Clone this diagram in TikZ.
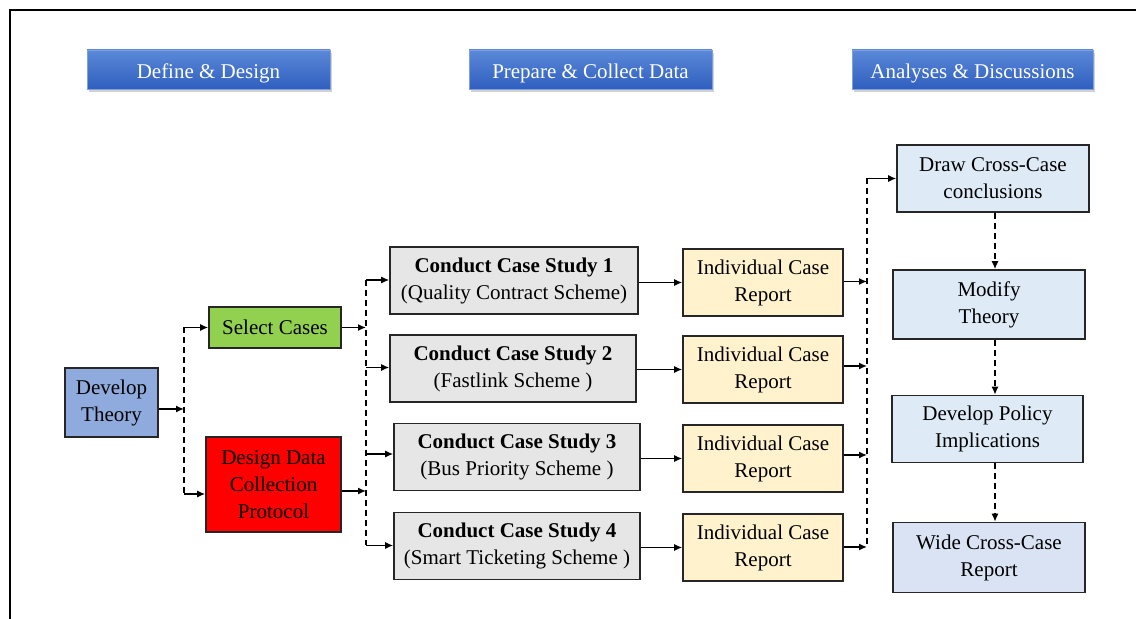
\documentclass[tikz,border=0pt]{standalone}
\usepackage{fontspec}
\setmainfont{Liberation Serif}
\usetikzlibrary{arrows.meta,shadows}
\definecolor{hdrtop}{HTML}{5B88D8}
\definecolor{hdrbot}{HTML}{2F5FBF}
\definecolor{hdrline}{HTML}{7FA0E0}
\definecolor{dtfill}{HTML}{8FAADC}
\definecolor{scfill}{HTML}{92D050}
\definecolor{ddfill}{HTML}{FF0000}
\definecolor{csfill}{HTML}{E7E6E6}
\definecolor{rpfill}{HTML}{FFF2CC}
\definecolor{anfill}{HTML}{DEEBF7}
\definecolor{wrfill}{HTML}{DAE3F3}
\begin{document}
\begin{tikzpicture}[x=0.5pt,y=-0.5pt,
  txt/.style={font=\fontsize{10.5}{13.5}\selectfont, align=center, inner sep=0pt},
  box/.style={txt, draw=black!85, line width=0.8pt},
  hdr/.style={txt, top color=hdrtop, bottom color=hdrbot, draw=hdrline, line width=0.4pt,
    text=white, minimum width=121.5pt, minimum height=19.5pt, text height=9.5pt, text depth=0pt,
    drop shadow={opacity=0.35, shadow xshift=1pt, shadow yshift=-1.5pt}},
  conn/.style={line width=0.7pt, black},
  arr/.style={conn, -{Latex[length=4pt,width=3.5pt]}},
  dsh/.style={conn, dash pattern=on 3pt off 2pt},
  darr/.style={arr, dash pattern=on 3pt off 2pt},
  csbox/.style={box, fill=csfill, minimum width=123pt, minimum height=33.5pt},
  rpbox/.style={box, fill=rpfill, minimum width=80pt, minimum height=33.5pt},
  anbox/.style={box, fill=anfill, minimum width=96pt, minimum height=33.5pt}]
\useasboundingbox[fill=white] (0,0) rectangle (1136,619);
\draw[line width=1pt] (9.5,619) -- (9.5,10.5) -- (1136,10.5);

% headers
\node[hdr] (h1) at (208.5,69.5) {Define \& Design};
\node[hdr] (h2) at (590.5,69.5) {Prepare \& Collect Data};
\node[hdr, minimum width=120.5pt] (h3) at (972.5,69.5) {Analyses \& Discussions};

% left column
\node[box, fill=dtfill, minimum width=46.5pt, minimum height=34.5pt] (dt) at (111.5,402.5) {Develop\\Theory};
\node[box, fill=scfill, minimum width=66pt, minimum height=20.5pt] (sc) at (275,327.5) {Select Cases};
\node[box, fill=ddfill, minimum width=67.5pt, minimum height=47.5pt] (dd) at (273.5,484.5) {Design Data\\Collection\\Protocol};

% case studies
\node[csbox, minimum width=124pt] (cs1) at (514,280.5) {\textbf{Conduct Case Study 1}\\(Quality Contract Scheme)};
\node[csbox] (cs2) at (513,368.5) {\textbf{Conduct Case Study 2}\\(Fastlink Scheme )};
\node[csbox] (cs3) at (517,457) {\textbf{Conduct Case Study 3}\\(Bus Priority Scheme )};
\node[csbox] (cs4) at (517,546) {\textbf{Conduct Case Study 4}\\(Smart Ticketing Scheme )};

% reports
\node[rpbox] (r1) at (763,282.5) {Individual Case\\Report};
\node[rpbox] (r2) at (763,369.5) {Individual Case\\Report};
\node[rpbox] (r3) at (763,458.5) {Individual Case\\Report};
\node[rpbox] (r4) at (763,547.5) {Individual Case\\Report};

% analysis column
\node[anbox] (dc) at (993,178.5) {Draw Cross-Case\\conclusions};
\node[anbox, minimum height=34.5pt] (mt) at (989,304.5) {Modify\\Theory};
\node[anbox, minimum width=95.5pt] (dp) at (987.5,429) {Develop Policy\\Implications};
\node[anbox, fill=wrfill, minimum height=35pt] (wr) at (989,557.5) {Wide Cross-Case\\Report};

% junction 1
\coordinate (j1a) at (184,327.5);
\coordinate (j1m) at (184,409);
\coordinate (j1b) at (184,494);
\draw[dsh] (j1a) -- (j1b);
\draw[arr] (dt.east |- j1m) -- (j1m);
\draw[arr] (j1a) -- (sc.west);
\draw[arr] (j1b) -- (dd.west |- j1b);

% junction 2
\coordinate (j2a) at (366,280);
\coordinate (j2s) at (366,327.5);
\coordinate (j2d) at (366,491);
\coordinate (j2c2) at (366,367.5);
\coordinate (j2c3) at (366,454);
\coordinate (j2b) at (366,545.5);
\draw[dsh] (j2a) -- (j2b);
\draw[arr] (sc.east) -- (j2s);
\draw[arr] (dd.east |- j2d) -- (j2d);
\draw[arr] (j2a) -- (cs1.west |- j2a);
\draw[arr] (j2c2) -- (cs2.west |- j2c2);
\draw[arr] (j2c3) -- (cs3.west |- j2c3);
\draw[arr] (j2b) -- (cs4.west |- j2b);

% case -> report
\draw[arr] (cs1.east |- r1) -- (r1.west);
\draw[arr] (cs2.east |- r2) -- (r2.west);
\draw[arr] (cs3.east |- r3) -- (r3.west);
\draw[arr] (cs4.east |- r4) -- (r4.west);

% junction 3
\coordinate (j3a) at (867,178.5);
\coordinate (j3r1) at (867,281.5);
\coordinate (j3r2) at (867,366);
\coordinate (j3r3) at (867,455);
\coordinate (j3b) at (867,547);
\draw[dsh] (j3a) -- (j3b);
\draw[arr] (j3a) -- (dc.west);
\draw[arr] (r1.east |- j3r1) -- (j3r1);
\draw[arr] (r2.east |- j3r2) -- (j3r2);
\draw[arr] (r3.east |- j3r3) -- (j3r3);
\draw[arr] (r4.east |- j3b) -- (j3b);

% analysis chain
\coordinate (ax) at (995,0);
\draw[darr] (dc.south -| ax) -- (mt.north -| ax);
\draw[darr] (mt.south -| ax) -- (dp.north -| ax);
\draw[darr] (dp.south -| ax) -- (wr.north -| ax);
\end{tikzpicture}
\end{document}
